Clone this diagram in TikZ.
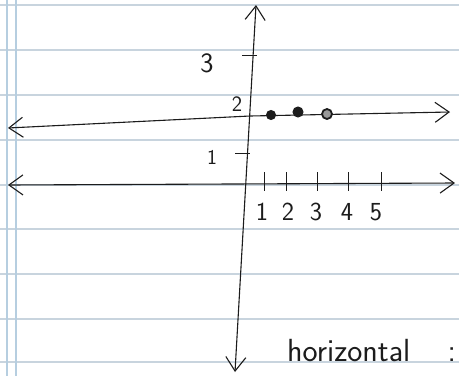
\documentclass[tikz,border=0pt]{standalone}
\usetikzlibrary{arrows.meta}
\definecolor{rule}{RGB}{200,212,222}
\definecolor{margin}{RGB}{182,206,224}
\definecolor{pencil}{RGB}{28,28,28}

\begin{document}
\begin{tikzpicture}[x=1pt, y=-1pt, >={Straight Barb[length=14pt,width=20pt]}]
  \tikzstyle{axis}=[line width=1.1pt, draw=pencil, line join=round, <->]
  \tikzstyle{tick}=[line width=1pt, draw=pencil]
  \tikzstyle{num}=[font=\sffamily\fontsize{26}{26}\selectfont, text=pencil, inner sep=0pt]
  \tikzstyle{dot}=[circle, draw=pencil, fill=pencil, line width=1pt, inner sep=0pt, minimum size=9pt]
  \useasboundingbox (0,0) rectangle (459,376);
  \fill[white] (0,0) rectangle (459,376);

  % ruled paper
  \foreach \y in {5,50,95,140,185,229,274,319,362}
    \draw[rule, line width=1.6pt] (0,\y) -- (459,\y);
  \draw[margin, line width=1.4pt] (7,0) -- (7,376);
  \draw[margin, line width=1.4pt] (16,0) -- (16,376);

  % axes
  \coordinate (ytop) at (256,5);
  \coordinate (ybot) at (235,372);
  \coordinate (twoL) at (8,128);
  \coordinate (twoM) at (250,116);
  \coordinate (twoR) at (450,112);
  \coordinate (xL) at (8,185);
  \coordinate (xR) at (455,183);
  \draw[axis] (ybot) -- (ytop);
  \draw[axis] (twoL) -- (twoM) -- (twoR);
  \draw[axis] (xL) -- (xR);

  % y ticks and labels
  \draw[tick] (242,55) -- (257,55);
  \draw[tick] (235,153) -- (250,153);
  \node[num, font=\sffamily\fontsize{28}{28}\selectfont] (three) at (207,63) {3};
  \node[num, font=\sffamily\fontsize{22}{22}\selectfont] (two) at (237,104) {2};
  \node[num, font=\sffamily\fontsize{21}{21}\selectfont] (one) at (212,157) {1};

  % x ticks and labels
  \foreach \x/\lx/\n in {264/262/1, 286/288/2, 317/316/3, 348/347/4, 381/376/5} {
    \draw[tick] (\x,172) -- (\x,191);
    \node[num] (x\n) at (\lx,212) {\n};
  }

  % points on y = 2
  \node[dot] (p1) at (271,115) {};
  \node[dot, minimum size=10pt] (p2) at (298,112) {};
  \node[dot, minimum size=10pt, fill=black!40, line width=1.8pt] (p3) at (327,114) {};

  \node[font=\sffamily\fontsize{32}{32}\selectfont, text=pencil, anchor=base west, inner sep=0pt] (note) at (287,361) {horizontal\quad\,:};
\end{tikzpicture}
\end{document}
